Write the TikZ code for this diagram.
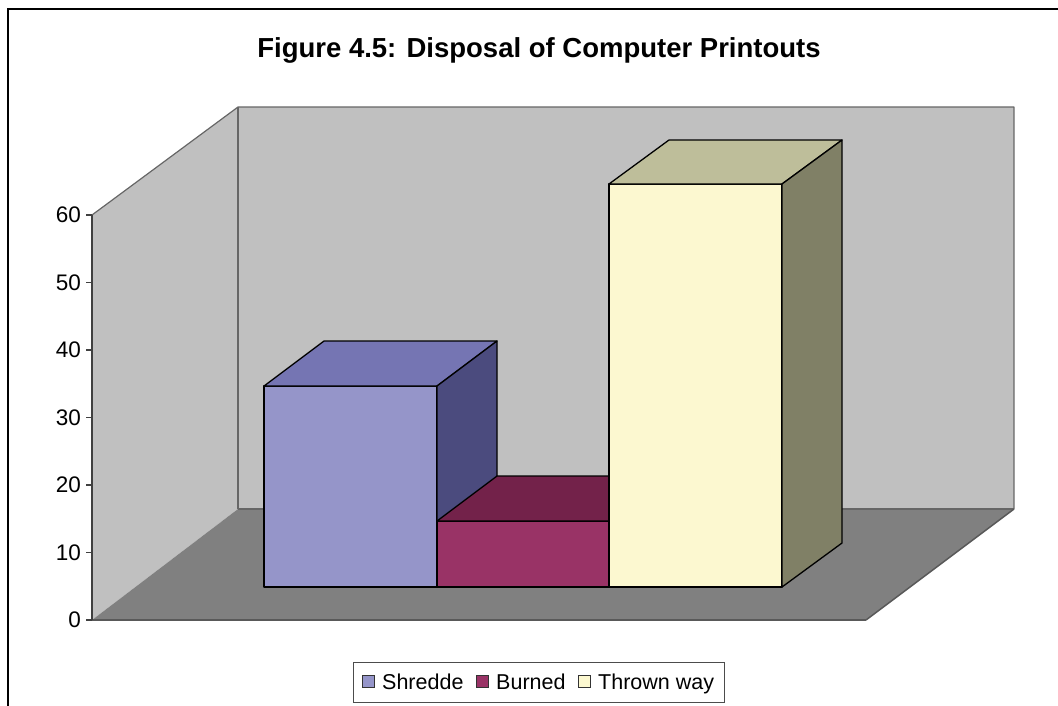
\documentclass[tikz,border=0pt]{standalone}
\usepackage{fontspec}
\setmainfont{Liberation Sans}
\begin{document}
\begin{tikzpicture}[x=1pt,y=-1pt,
  wall/.style={draw=gray!80!black,line width=1.2pt,line join=round},
  barface/.style={draw=black,line width=1.3pt,line join=round},
  ticklab/.style={anchor=east,font=\fontsize{22.5}{25}\selectfont,inner sep=0pt},
  legtext/.style={anchor=base west,font=\fontsize{21.5}{24}\selectfont,inner sep=0pt},
  legbox/.style={draw=black!80,line width=1pt,minimum width=12pt,minimum height=12pt,inner sep=0pt}]
\definecolor{backwall}{HTML}{C0C0C0}
\definecolor{floorc}{HTML}{808080}
\definecolor{shF}{HTML}{9595C9}
\definecolor{shT}{HTML}{7575B3}
\definecolor{shS}{HTML}{4B4B7E}
\definecolor{buF}{HTML}{993366}
\definecolor{buT}{HTML}{73224A}
\definecolor{thF}{HTML}{FCF8D0}
\definecolor{thT}{HTML}{BEBE9A}
\definecolor{thS}{HTML}{808066}
\useasboundingbox (0,0) rectangle (1058,705);
% outer frame
\draw[line width=2pt] (8,710) -- (8,9) -- (1065,9);
% title
\node[anchor=base,inner sep=0pt,font=\bfseries\fontsize{27.5}{30}\selectfont] (title) at (539,57.5) {Figure 4.5: Disposal of Computer Printouts};
% walls
\fill[backwall] (238,107) -- (1014,107) -- (1014,509) -- (238,509) -- cycle;
\fill[backwall] (92,620) -- (92,215) -- (238,107) -- (238,509) -- cycle;
\fill[floorc] (92,620) -- (866,620) -- (1014,509) -- (238,509) -- cycle;
\draw[wall] (92,215) -- (238,107) -- (1014,107) -- (1014,509);
\draw[wall] (238,107) -- (238,509);
\draw[draw=gray!80!black,line width=1.2pt] (238,509) -- (1014,509);
\draw[draw=black!65,line width=1.5pt] (866,620) -- (1014,509);
\draw[draw=black!65,line width=1.5pt] (92,620) -- (866,620);
\draw[draw=black!75,line width=1.3pt] (92,215) -- (92,620);
% ticks and labels
\foreach \v/\yy in {0/620,10/552.5,20/485,30/417.5,40/350,50/282.5,60/215}{
  \draw[black!75,line width=1.2pt] (86,\yy) -- (92,\yy);
  \node[ticklab] (t\v) at (81,\yy) {\v};
}
% Shredde bar
\filldraw[barface,fill=shF] (264,587) -- (437,587) -- (437,386) -- (264,386) -- cycle;
\filldraw[barface,fill=shT] (264,386) -- (324,341) -- (497,341) -- (437,386) -- cycle;
\filldraw[barface,fill=shS] (437,386) -- (497,341) -- (497,542) -- (437,587) -- cycle;
% Burned bar
\filldraw[barface,fill=buF] (437,587) -- (609,587) -- (609,521) -- (437,521) -- cycle;
\filldraw[barface,fill=buT] (437,521) -- (497,476) -- (669,476) -- (609,521) -- cycle;
% Thrown bar
\filldraw[barface,fill=thF] (609,587) -- (782,587) -- (782,184) -- (609,184) -- cycle;
\filldraw[barface,fill=thT] (609,184) -- (669,140) -- (842,140) -- (782,184) -- cycle;
\filldraw[barface,fill=thS] (782,184) -- (842,140) -- (842,543) -- (782,587) -- cycle;
% legend
\node[draw=black!70,line width=1pt,minimum width=371pt,minimum height=40pt,inner sep=0pt] (legend) at (538.5,682) {};
\node[legbox,fill=shF] (k1) at (368.5,681.5) {};
\node[legtext] (l1) at (382,689.5) {Shredde};
\node[legbox,fill=buF] (k2) at (482.5,681.5) {};
\node[legtext] (l2) at (496,689.5) {Burned};
\node[legbox,fill=thF] (k3) at (584.5,681.5) {};
\node[legtext] (l3) at (598,689.5) {Thrown way};
\end{tikzpicture}
\end{document}
